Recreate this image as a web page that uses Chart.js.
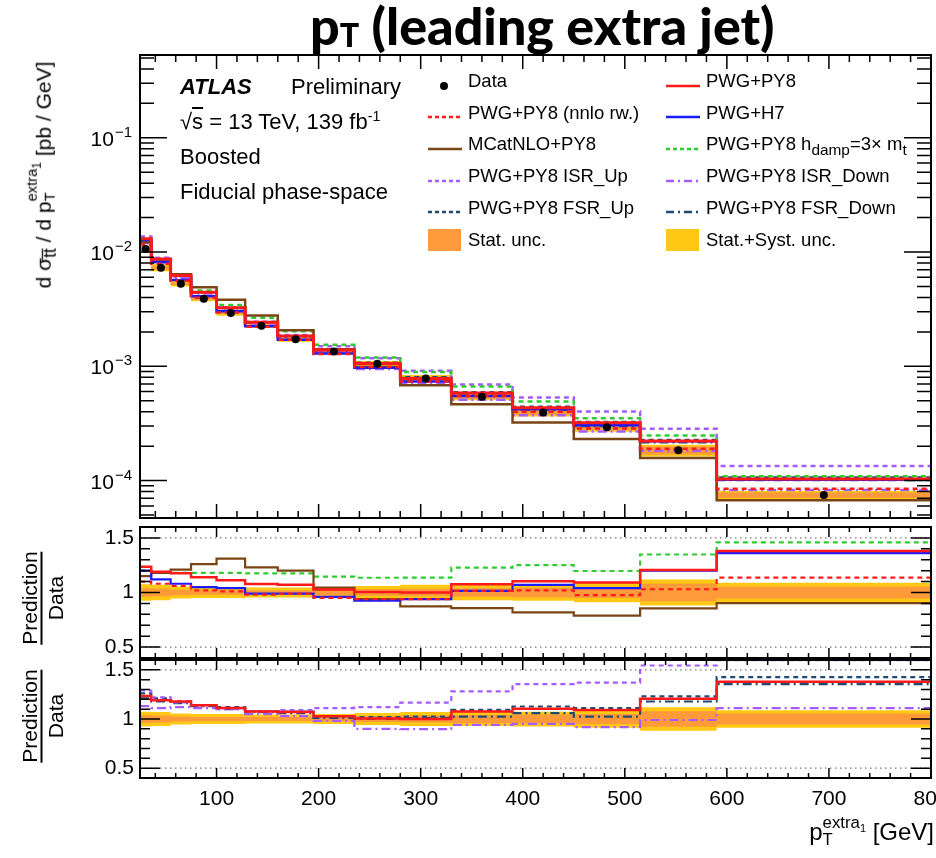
<!DOCTYPE html>
<html>
<head>
<meta charset="utf-8">
<script src="https://cdn.jsdelivr.net/npm/chart.js@4.4.0/dist/chart.umd.min.js"></script>
<style>
  body { margin: 0; background: #fff; }
  #wrap { position: relative; width: 936px; height: 858px; overflow: hidden; font-family: "Liberation Sans", Arial, sans-serif; color: #000; }
  #wrap canvas { position: absolute; left: 0; }
  .t { position: absolute; white-space: nowrap; line-height: 1; }
  .t sub, .t sup { font-size: 65%; line-height: 0; }
  .ss { display: inline-block; vertical-align: -0.3em; font-size: 0.7em; line-height: 1.0; text-align: left; }
  .ss > span { display: block; }
  .rot { position: absolute; white-space: nowrap; transform: translate(-50%, -50%) rotate(-90deg); line-height: 1; }
  .frac { text-align: center; font-size: 21px; }
  .frac .num { border-bottom: 2px solid #000; padding-bottom: 1px; }
  .frac .den { padding-top: 2px; }
  .lg { position: absolute; font-size: 18.5px; white-space: nowrap; line-height: 1; }
</style>
</head>
<body>
<div id="wrap">
  <canvas id="cMain"></canvas>
  <canvas id="cR1"></canvas>
  <canvas id="cR2"></canvas>

  <div class="t" style="left:310px; top:-1px; font-family:Lato, 'Open Sans', sans-serif; font-weight:900; font-size:52px;">p<sub style="font-size:62%; vertical-align:-0.05em">T</sub> (leading extra jet)</div>

  <div class="t" style="left:180px; top:76px; font-size:22px;"><b><i>ATLAS</i></b></div>
  <div class="t" style="left:291px; top:76px; font-size:22px;">Preliminary</div>
  <div class="t" style="left:180px; top:111px; font-size:22px;">&radic;<span style="text-decoration:overline">s</span> = 13 TeV, 139 fb<sup>-1</sup></div>
  <div class="t" style="left:180px; top:146px; font-size:22px;">Boosted</div>
  <div class="t" style="left:180px; top:181px; font-size:22px;">Fiducial phase-space</div>

  <div class="rot" style="left:42px; top:175px; font-size:21px;">d &sigma;<sub>t&#773;t&#772;</sub> / d p<span class="ss"><span>extra<sub>1</sub></span><span>T</span></span> [pb / GeV]</div>

  <div class="rot frac" style="left:42px; top:598px;"><div class="num">Prediction</div><div class="den">Data</div></div>
  <div class="rot frac" style="left:42px; top:716px;"><div class="num">Prediction</div><div class="den">Data</div></div>

  <div class="t" style="right:2px; top:815px; font-size:24px;">p<span class="ss"><span>extra<sub>1</sub></span><span>T</span></span> [GeV]</div>
</div>

<script>
'use strict';

// bin edges of p_T (leading extra jet) [GeV]
const edges = [25, 36, 55, 75, 100, 128, 160, 195, 235, 280, 330, 390, 450, 515, 590, 800];

// unfolded data, d sigma / d pT [pb/GeV]
const dataVals = [1.06e-2, 7.3e-3, 5.28e-3, 3.90e-3, 2.92e-3, 2.26e-3, 1.72e-3, 1.35e-3,
                  1.05e-3, 7.83e-4, 5.42e-4, 3.93e-4, 2.93e-4, 1.84e-4, 7.46e-5];

// relative uncertainties on data
const statUnc = [0.040, 0.035, 0.025, 0.020, 0.020, 0.020, 0.020, 0.025, 0.030, 0.035, 0.040, 0.045, 0.050, 0.080, 0.055];
const totUnc  = [0.075, 0.070, 0.055, 0.050, 0.050, 0.045, 0.045, 0.050, 0.060, 0.070, 0.070, 0.075, 0.090, 0.120, 0.090];

// prediction / data
const pwgPy8   = [1.235, 1.19, 1.177, 1.14, 1.113, 1.077, 1.07, 1.027, 1.005, 1.00, 1.076, 1.103, 1.092, 1.205, 1.38];
const pwgNnlo  = [1.10, 1.08, 1.06, 1.02, 1.01, 0.98, 0.99, 0.95, 0.94, 0.94, 1.015, 1.02, 0.976, 1.03, 1.136];
const pwgH7    = [1.20, 1.12, 1.08, 1.05, 1.04, 0.99, 0.99, 0.96, 0.925, 0.94, 1.015, 1.07, 1.04, 1.20, 1.36];
const mcatnlo  = [1.15, 1.18, 1.21, 1.26, 1.31, 1.23, 1.20, 1.045, 0.94, 0.873, 0.857, 0.818, 0.788, 0.855, 0.903];
const hdamp    = [1.20, 1.18, 1.18, 1.18, 1.18, 1.175, 1.175, 1.145, 1.135, 1.136, 1.227, 1.25, 1.197, 1.348, 1.46];
const isrUp    = [1.29, 1.22, 1.17, 1.14, 1.11, 1.08, 1.09, 1.11, 1.12, 1.167, 1.28, 1.354, 1.37, 1.544, 1.80];
const isrDown  = [1.13, 1.11, 1.12, 1.11, 1.10, 1.05, 1.03, 0.98, 0.90, 0.897, 0.94, 0.95, 0.917, 0.99, 1.11];
const fsrUp    = [1.26, 1.21, 1.18, 1.14, 1.12, 1.08, 1.075, 1.03, 1.02, 1.025, 1.093, 1.127, 1.11, 1.23, 1.425];
const fsrDown  = [1.21, 1.18, 1.16, 1.13, 1.10, 1.07, 1.06, 1.01, 1.00, 1.008, 1.025, 1.06, 1.025, 1.178, 1.354];

// axis ticks / labels
const xTicks = [100, 200, 300, 400, 500, 600, 700, 800];
const yMainTicks = [1e-4, 1e-3, 1e-2, 1e-1];
const yMainExp = ['\u22124', '\u22123', '\u22122', '\u22121'];
const ratioTicks = [0.5, 1, 1.5];
const ratioLabels = ['0.5', '1', '1.5'];

// colours
const RED = '#ff1a1a', BLUE = '#1a1aff', BROWN = '#7a4414', GREEN = '#2ecc2e',
      PURPLE = '#a45cff', NAVY = '#1f4a75', ORANGE = '#ff9a3a', YELLOW = '#ffc814';
const DASH = [5, 4], DASHDOT = [9, 4, 2, 4];

// helpers
const steps = (vals) => {
  const pts = vals.map((v, i) => ({ x: edges[i], y: v }));
  pts.push({ x: edges[edges.length - 1], y: vals[vals.length - 1] });
  return pts;
};
const times = (ratio) => dataVals.map((d, i) => d * ratio[i]);
const shift = (vals, unc, s) => vals.map((v, i) => v * (1 + s * unc[i]));
const ones = dataVals.map(() => 1);
const clampR = (vals) => vals.map(v => Math.min(Math.max(v, 0.402), 1.598));
const centers = dataVals.map((d, i) => ({ x: (edges[i] + edges[i + 1]) / 2, y: d }));

// 'before' in Chart.js = keep previous y until the next x, then jump
const lineDs = (label, vals, color, dash, width) => ({
  label, data: steps(vals), borderColor: color, borderDash: dash || [], borderWidth: width || 2.5,
  pointRadius: 0, stepped: 'before', fill: false, tension: 0
});
const bandDs = (label, vals, color, fill) => ({
  label, data: steps(vals), borderWidth: 0, borderColor: 'rgba(0,0,0,0)', backgroundColor: color,
  pointRadius: 0, stepped: 'before', fill
});

// ROOT style frame + inward ticks
const frameTicks = {
  id: 'frameTicks',
  beforeDatasetsDraw(chart, args, o) {
    const { ctx, chartArea: ca, scales: { y } } = chart;
    ctx.save();
    ctx.strokeStyle = '#777'; ctx.lineWidth = 1.2; ctx.setLineDash([1.5, 3.5]);
    (o.dotted || []).forEach(v => {
      const py = y.getPixelForValue(v);
      ctx.beginPath(); ctx.moveTo(ca.left, py); ctx.lineTo(ca.right, py); ctx.stroke();
    });
    ctx.restore();
  },
  afterDatasetsDraw(chart, args, o) {
    const { ctx, chartArea: ca, scales: { x, y } } = chart;
    ctx.save();
    ctx.strokeStyle = '#000'; ctx.lineWidth = 1.5; ctx.setLineDash([]);
    ctx.beginPath();
    for (let v = 40; v < 800; v += 20) {
      const px = x.getPixelForValue(v);
      const L = v % 100 === 0 ? o.xMajor : o.xMinor;
      ctx.moveTo(px, ca.bottom); ctx.lineTo(px, ca.bottom - L);
      ctx.moveTo(px, ca.top); ctx.lineTo(px, ca.top + L);
    }
    o.yTicks.forEach(([v, major]) => {
      const py = y.getPixelForValue(v);
      if (py < ca.top - 0.5 || py > ca.bottom + 0.5) return;
      const L = major ? o.yMajor : o.yMinor;
      ctx.moveTo(ca.left, py); ctx.lineTo(ca.left + L, py);
      ctx.moveTo(ca.right, py); ctx.lineTo(ca.right - L, py);
    });
    ctx.stroke();
    ctx.lineWidth = 2;
    ctx.strokeRect(ca.left, ca.top, ca.right - ca.left, ca.bottom - ca.top);

    // power-of-ten labels, ROOT style: "10" with a raised exponent
    if (o.powLabels) {
      ctx.fillStyle = '#000';
      ctx.textBaseline = 'alphabetic';
      yMainTicks.forEach((v, i) => {
        const py = y.getPixelForValue(v);
        ctx.font = '15px "Liberation Sans", Arial, sans-serif';
        const we = ctx.measureText(yMainExp[i]).width;
        ctx.textAlign = 'right';
        ctx.fillText(yMainExp[i], ca.left - 8, py - 1);
        ctx.font = '21px "Liberation Sans", Arial, sans-serif';
        ctx.fillText('10', ca.left - 8 - we - 1, py + 8);
      });
    }
    ctx.restore();
  }
};

const logTicks = [];
for (let d = -5; d <= -1; d++) for (let m = 1; m <= 9; m++) logTicks.push([m * Math.pow(10, d), m === 1]);
const linTicks = [];
for (let k = 4; k <= 16; k++) linTicks.push([k / 10, k % 5 === 0]);

const tickFont = { family: '"Liberation Sans", Arial, sans-serif', size: 21 };

function makeChart(id, top, height, padTop, xH, showX, yScale, datasets, frameOpts) {
  const el = document.getElementById(id);
  el.style.top = top + 'px';
  el.width = 936; el.height = height;
  el.style.width = '936px'; el.style.height = height + 'px';
  const noPad = (s) => { s.paddingLeft = 0; s.paddingRight = 0; s.paddingTop = 0; s.paddingBottom = 0; };
  return new Chart(el.getContext('2d'), {
    type: 'line',
    data: { datasets },
    options: {
      responsive: false, animation: false, events: [],
      layout: { padding: { left: 0, right: 5, top: padTop, bottom: 0 } },
      plugins: { legend: { display: false }, tooltip: { enabled: false }, frameTicks: frameOpts },
      scales: {
        x: {
          type: 'linear', min: 25, max: 800,
          grid: { display: false, drawTicks: false }, border: { display: false },
          ticks: { display: showX, font: tickFont, color: '#000', padding: 9, maxRotation: 0, autoSkip: false,
                   callback: (v) => String(v) },
          afterBuildTicks: (s) => { s.ticks = xTicks.map(v => ({ value: v })); },
          afterFit: (s) => { s.height = xH; noPad(s); }
        },
        y: Object.assign({
          grid: { display: false, drawTicks: false }, border: { display: false },
          afterFit: (s) => { s.width = 140; noPad(s); }
        }, yScale)
      }
    },
    plugins: [frameTicks]
  });
}

// ---------- main panel ----------
makeChart('cMain', 0, 522, 55, 4, false, {
  type: 'logarithmic', min: 4.7e-5, max: 0.53,
  ticks: { display: false },
  afterBuildTicks: (s) => { s.ticks = yMainTicks.map(v => ({ value: v })); }
}, [
  { label: 'Data', data: centers, showLine: false, pointRadius: 4, pointBackgroundColor: '#000', pointBorderColor: '#000', borderWidth: 0 },
  lineDs('PWG+PY8', times(pwgPy8), RED, [], 3),
  lineDs('PWG+PY8 (nnlo rw.)', times(pwgNnlo), RED, DASH, 2.5),
  lineDs('PWG+H7', times(pwgH7), BLUE, [], 2.5),
  lineDs('MCatNLO+PY8', times(mcatnlo), BROWN, [], 2.5),
  lineDs('PWG+PY8 hdamp', times(hdamp), GREEN, DASH, 2.5),
  lineDs('PWG+PY8 ISR_Up', times(isrUp), PURPLE, DASH, 2.5),
  lineDs('PWG+PY8 ISR_Down', times(isrDown), PURPLE, DASHDOT, 2.5),
  lineDs('PWG+PY8 FSR_Up', times(fsrUp), NAVY, DASH, 2.5),
  lineDs('PWG+PY8 FSR_Down', times(fsrDown), NAVY, DASHDOT, 2.5),
  bandDs('Stat up', shift(dataVals, statUnc, 1), ORANGE, '+1'),
  bandDs('Stat down', shift(dataVals, statUnc, -1), ORANGE, false),
  bandDs('Tot up', shift(dataVals, totUnc, 1), YELLOW, '+1'),
  bandDs('Tot down', shift(dataVals, totUnc, -1), YELLOW, false)
], { xMajor: 14, xMinor: 7, yMajor: 27, yMinor: 14, yTicks: logTicks, powLabels: true });

// ---------- ratio panels ----------
const ratioY = {
  type: 'linear', min: 0.4, max: 1.6,
  ticks: { font: tickFont, color: '#000', padding: 6, autoSkip: false, callback: (v, i) => ratioLabels[i] },
  afterBuildTicks: (s) => { s.ticks = ratioTicks.map(v => ({ value: v })); }
};
const ratioFrame = { xMajor: 10, xMinor: 5, yMajor: 20, yMinor: 10, yTicks: linTicks, dotted: [0.5, 1.5] };

makeChart('cR1', 520, 140, 7, 2, false, ratioY, [
  lineDs('PWG+PY8', clampR(pwgPy8), RED, [], 2.5),
  lineDs('PWG+PY8 (nnlo rw.)', clampR(pwgNnlo), RED, DASH, 2.2),
  lineDs('PWG+H7', clampR(pwgH7), BLUE, [], 2.2),
  lineDs('MCatNLO+PY8', clampR(mcatnlo), BROWN, [], 2.2),
  lineDs('PWG+PY8 hdamp', clampR(hdamp), GREEN, DASH, 2.2),
  bandDs('Stat up', shift(ones, statUnc, 1), ORANGE, '+1'),
  bandDs('Stat down', shift(ones, statUnc, -1), ORANGE, false),
  bandDs('Tot up', shift(ones, totUnc, 1), YELLOW, '+1'),
  bandDs('Tot down', shift(ones, totUnc, -1), YELLOW, false)
], ratioFrame);

makeChart('cR2', 656, 202, 4, 80, true, ratioY, [
  lineDs('PWG+PY8', clampR(pwgPy8), RED, [], 2.5),
  lineDs('PWG+PY8 ISR_Up', clampR(isrUp), PURPLE, DASH, 2.2),
  lineDs('PWG+PY8 ISR_Down', clampR(isrDown), PURPLE, DASHDOT, 2.2),
  lineDs('PWG+PY8 FSR_Up', clampR(fsrUp), NAVY, DASH, 2.2),
  lineDs('PWG+PY8 FSR_Down', clampR(fsrDown), NAVY, DASHDOT, 2.2),
  bandDs('Stat up', shift(ones, statUnc, 1), ORANGE, '+1'),
  bandDs('Stat down', shift(ones, statUnc, -1), ORANGE, false),
  bandDs('Tot up', shift(ones, totUnc, 1), YELLOW, '+1'),
  bandDs('Tot down', shift(ones, totUnc, -1), YELLOW, false)
], ratioFrame);

// ---------- legend ----------
const legendItems = [
  { col: 0, row: 0, kind: 'dot', html: 'Data' },
  { col: 1, row: 0, kind: 'line', color: RED, dash: '', html: 'PWG+PY8' },
  { col: 0, row: 1, kind: 'line', color: RED, dash: '4 3', html: 'PWG+PY8 (nnlo rw.)' },
  { col: 1, row: 1, kind: 'line', color: BLUE, dash: '', html: 'PWG+H7' },
  { col: 0, row: 2, kind: 'line', color: BROWN, dash: '', html: 'MCatNLO+PY8' },
  { col: 1, row: 2, kind: 'line', color: GREEN, dash: '4 3', html: 'PWG+PY8 h<sub>damp</sub>=3&times; m<sub>t</sub>' },
  { col: 0, row: 3, kind: 'line', color: PURPLE, dash: '4 3', html: 'PWG+PY8 ISR_Up' },
  { col: 1, row: 3, kind: 'line', color: PURPLE, dash: '8 4 2 4', html: 'PWG+PY8 ISR_Down' },
  { col: 0, row: 4, kind: 'line', color: NAVY, dash: '4 3', html: 'PWG+PY8 FSR_Up' },
  { col: 1, row: 4, kind: 'line', color: NAVY, dash: '8 4 2 4', html: 'PWG+PY8 FSR_Down' },
  { col: 0, row: 5, kind: 'box', color: ORANGE, html: 'Stat. unc.' },
  { col: 1, row: 5, kind: 'box', color: YELLOW, html: 'Stat.+Syst. unc.' }
];
const symLeft = [428, 666], txtLeft = [468, 706];
const wrap = document.getElementById('wrap');
legendItems.forEach(it => {
  const cy = 81.5 + it.row * 31.7;
  const sym = document.createElement('div');
  sym.style.position = 'absolute';
  sym.style.left = symLeft[it.col] + 'px';
  if (it.kind === 'box') {
    sym.style.top = (cy - 11) + 'px'; sym.style.width = '33px'; sym.style.height = '22px';
    sym.style.background = it.color;
  } else {
    sym.style.top = (cy - 5) + 'px';
    sym.innerHTML = it.kind === 'dot'
      ? '<svg width="34" height="10"><circle cx="16" cy="5" r="4" fill="#000"/></svg>'
      : `<svg width="34" height="10"><line x1="0" y1="5" x2="34" y2="5" stroke="${it.color}" stroke-width="2.5" stroke-dasharray="${it.dash}"/></svg>`;
  }
  wrap.appendChild(sym);
  const tx = document.createElement('div');
  tx.className = 'lg';
  tx.style.left = txtLeft[it.col] + 'px';
  tx.style.top = (cy - 9.5) + 'px';
  tx.innerHTML = it.html;
  wrap.appendChild(tx);
});
</script>
</body>
</html>
